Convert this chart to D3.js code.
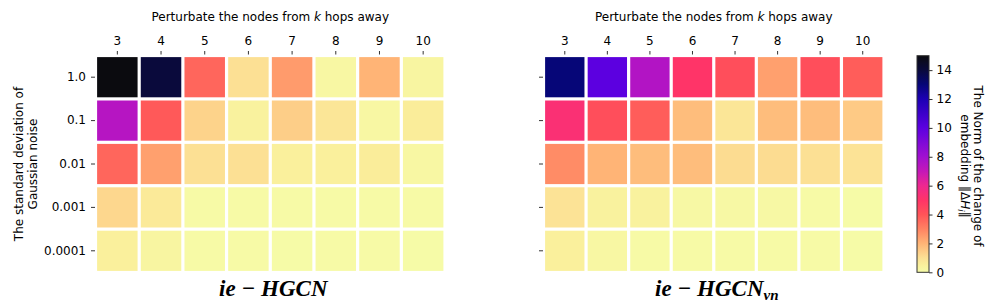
<!DOCTYPE html>
<html lang="en">
<head>
  <meta charset="UTF-8">
  <title>Perturbation heatmaps</title>
  <script src="https://d3js.org/d3.v7.min.js"></script>
  <style>
    body {
      margin: 0;
      padding: 0;
      background: #fff;
    }
    svg text {
      font-family: "DejaVu Sans", sans-serif;
      fill: #000;
    }
    .axis text {
      font-size: 12px;
    }
    .axis path.domain {
      display: none;
    }
    .axis line {
      stroke: #333;
    }
    .math {
      font-family: "Liberation Serif", "DejaVu Serif", serif !important;
      font-style: italic;
      font-weight: bold;
    }
  </style>
</head>
<body>
  <div id="chart"></div>

  <script>
    // hops k (columns) and noise std (rows)
    const hops = [3, 4, 5, 6, 7, 8, 9, 10];
    const noiseLevels = ["1.0", "0.1", "0.01", "0.001", "0.0001"];

    // ||ΔH_i|| for ie-HGCN, one array per noise level
    const hgcnValues = [
      [15.0, 14.0, 3.6, 1.0, 2.5, 0.2, 2.0, 0.3],
      [7.4, 3.9, 1.3, 0.4, 1.4, 0.8, 0.2, 0.6],
      [3.6, 2.4, 1.0, 1.0, 0.5, 0.5, 0.6, 0.2],
      [1.2, 0.7, 0.1, 0.1, 0.1, 0.1, 0.1, 0.1],
      [0.5, 0.3, 0.1, 0.1, 0.05, 0.1, 0.1, 0.05]
    ];

    // ||ΔH_i|| for ie-HGCN_vn
    const hgcnVnValues = [
      [13.0, 10.0, 7.5, 5.0, 4.2, 2.4, 4.2, 3.8],
      [5.3, 4.2, 3.8, 1.8, 0.8, 1.8, 1.8, 1.5],
      [2.8, 2.0, 1.8, 1.8, 1.1, 1.1, 1.0, 0.9],
      [0.9, 0.4, 0.4, 0.15, 0.15, 0.15, 0.1, 0.05],
      [0.5, 0.2, 0.1, 0.1, 0.1, 0.1, 0.1, 0.05]
    ];

    const colorTicks = [0, 2, 4, 6, 8, 10, 12, 14];

    // colour stops
    const cmapStops = [0, 0.5, 1, 2, 3, 4, 5, 6, 7, 8, 10, 12, 13, 14, 15];
    const cmapColors = ["#f6fca8", "#faf09c", "#fce094", "#ffb476", "#ff8262", "#ff5458", "#ff3468",
      "#ee2890", "#c418b8", "#a010d0", "#5c00e0", "#1c00b4", "#060678", "#0a0a3c", "#0b0b0f"];

    const width = 997;
    const height = 304;

    const color = d3.scaleLinear()
      .domain(cmapStops)
      .range(cmapColors)
      .interpolate(d3.interpolateRgb)
      .clamp(true);

    const svg = d3.select("#chart")
      .append("svg")
      .attr("width", width)
      .attr("height", height);

    const plotTop = 55.5, plotBottom = 272.5;

    function drawHeatmap(values, x0, x1, showLabels, titleMain, titleSub) {
      const x = d3.scaleBand().domain(hops).range([x0, x1]);
      const y = d3.scaleBand().domain(noiseLevels).range([plotTop, plotBottom]);
      const g = svg.append("g");
      const gap = 1.6;

      const cells = [];
      values.forEach((row, i) => row.forEach((v, j) => {
        cells.push({ row: noiseLevels[i], col: hops[j], value: v });
      }));

      g.selectAll("rect")
        .data(cells)
        .enter()
        .append("rect")
        .attr("x", d => x(d.col) + gap)
        .attr("y", d => y(d.row) + gap)
        .attr("width", x.bandwidth() - 2 * gap)
        .attr("height", y.bandwidth() - 2 * gap)
        .attr("fill", d => color(d.value));

      g.append("g")
        .attr("class", "axis")
        .attr("transform", `translate(0,${plotTop - 1})`)
        .call(d3.axisTop(x).tickSize(3.5).tickPadding(6.5));

      g.append("g")
        .attr("class", "axis")
        .attr("transform", `translate(${x0 - 0.5},0)`)
        .call(d3.axisLeft(y).tickSize(4).tickPadding(5)
          .tickFormat(showLabels ? (d => d) : () => ""));

      const cx = (x0 + x1) / 2;
      const title = svg.append("text")
        .attr("x", cx)
        .attr("y", 21)
        .attr("text-anchor", "middle")
        .attr("font-size", "12px");
      title.append("tspan").text("Perturbate the nodes from ");
      title.append("tspan").attr("font-style", "italic").text("k");
      title.append("tspan").text(" hops away");

      const bt = svg.append("text")
        .attr("class", "math")
        .attr("x", cx + 3)
        .attr("y", 296)
        .attr("text-anchor", "middle")
        .attr("font-size", "23px");
      bt.append("tspan").text(titleMain);
      if (titleSub) {
        bt.append("tspan").attr("font-size", "15px").attr("dy", 4).text(titleSub);
      }
    }

    drawHeatmap(hgcnValues, 95.5, 445, true, "ie \u2212 HGCN", null);
    drawHeatmap(hgcnVnValues, 543.5, 884, false, "ie \u2212 HGCN", "vn");

    // y axis title (left heatmap)
    const ylab = svg.append("text")
      .attr("transform", "translate(23,164) rotate(-90)")
      .attr("text-anchor", "middle")
      .attr("font-size", "12px");
    ylab.append("tspan").attr("x", 0).attr("dy", 0).text("The standard deviation of");
    ylab.append("tspan").attr("x", 0).attr("dy", 13.5).text("Gaussian noise");

    // colour bar
    const cbX = 917, cbW = 12;
    const cbScale = d3.scaleLinear().domain([0, 15]).range([plotBottom - 0.2, plotTop + 0.2]);
    const defs = svg.append("defs");
    const grad = defs.append("linearGradient")
      .attr("id", "cbar")
      .attr("x1", 0).attr("y1", 1).attr("x2", 0).attr("y2", 0);
    d3.range(0, 15.01, 0.25).forEach(v => {
      grad.append("stop")
        .attr("offset", v / 15)
        .attr("stop-color", color(v));
    });
    svg.append("rect")
      .attr("x", cbX)
      .attr("y", cbScale(15))
      .attr("width", cbW)
      .attr("height", cbScale(0) - cbScale(15))
      .attr("fill", "url(#cbar)")
      .attr("stroke", "#333")
      .attr("stroke-width", 1);

    svg.append("g")
      .attr("class", "axis")
      .attr("transform", `translate(${cbX + cbW},0)`)
      .call(d3.axisRight(cbScale).tickValues(colorTicks).tickSize(3.5).tickPadding(4));

    const cbl = svg.append("text")
      .attr("transform", "translate(974,166) rotate(90)")
      .attr("text-anchor", "middle")
      .attr("font-size", "12px");
    cbl.append("tspan").attr("x", 0).attr("dy", 0).text("The Norm of the change of");
    const l2 = cbl.append("tspan").attr("x", 0).attr("dy", 13.5);
    l2.append("tspan").text("embedding \u2016\u0394");
    l2.append("tspan").attr("font-style", "italic").text("H");
    l2.append("tspan").attr("font-style", "italic").attr("font-size", "8.5px").attr("dy", 2.5).text("i");
    l2.append("tspan").attr("dy", -2.5).text("\u2016");
  </script>
</body>
</html>
